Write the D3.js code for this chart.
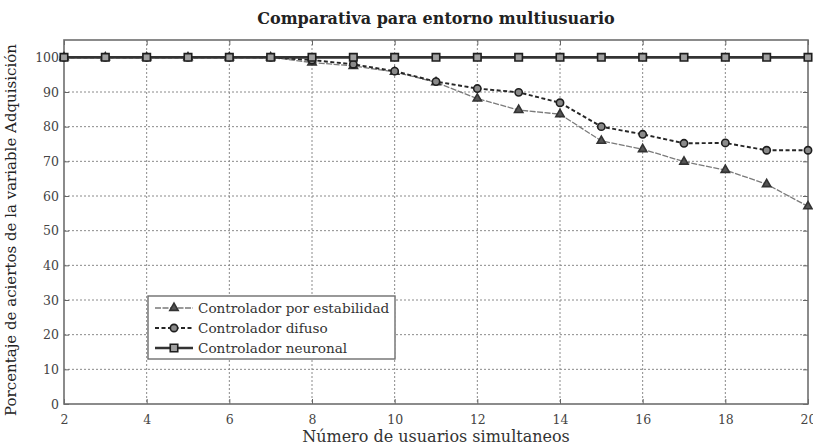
<!DOCTYPE html>
<html>
<head>
<meta charset="utf-8">
<script src="https://cdn.jsdelivr.net/npm/d3@7"></script>
<style>
  html, body { margin: 0; padding: 0; background: #fff; }
  svg { display: block; }
</style>
</head>
<body>
<svg id="chart" width="813" height="446"></svg>
<script>
// Number of simultaneous users
const usuarios = [2, 3, 4, 5, 6, 7, 8, 9, 10, 11, 12, 13, 14, 15, 16, 17, 18, 19, 20];

// Hit percentage for the "Adquisición" variable, per controller
const estabilidad = [100, 100, 100, 100, 100, 100, 98.5, 97.5, 95.8, 92.8, 88.1, 84.8, 83.6, 75.9, 73.5, 69.9, 67.5, 63.4, 57];
const difuso      = [100, 100, 100, 100, 100, 100, 99.2, 98, 96, 93, 91, 89.9, 86.9, 80, 77.8, 75.2, 75.3, 73.2, 73.2];
const neuronal    = [100, 100, 100, 100, 100, 100, 100, 100, 100, 100, 100, 100, 100, 100, 100, 100, 100, 100, 100];

const xTicks = [2, 4, 6, 8, 10, 12, 14, 16, 18, 20];
const yTicks = [0, 10, 20, 30, 40, 50, 60, 70, 80, 90, 100];

const titulo = "Comparativa para entorno multiusuario";
const etiquetaX = "Número de usuarios simultaneos";
const etiquetaY = "Porcentaje de aciertos de la variable Adquisición";
const nombres = ["Controlador por estabilidad", "Controlador difuso", "Controlador neuronal"];

const serif = "'DejaVu Serif', 'Liberation Serif', serif";

const svg = d3.select("#chart");
const plot = { left: 64, right: 808, top: 40, bottom: 404 };

const x = d3.scaleLinear().domain([2, 20]).range([plot.left, plot.right]);
const y = d3.scaleLinear().domain([0, 105]).range([plot.bottom, plot.top]);

// Dotted grid
const grid = svg.append("g").attr("stroke", "#8a8a8a").attr("stroke-width", 1)
  .attr("stroke-dasharray", "2,2");
grid.selectAll("line.gx").data(xTicks.slice(1, -1)).join("line")
  .attr("x1", d => x(d)).attr("x2", d => x(d))
  .attr("y1", plot.top).attr("y2", plot.bottom);
grid.selectAll("line.gy").data(yTicks.slice(1)).join("line")
  .attr("x1", plot.left).attr("x2", plot.right)
  .attr("y1", d => y(d)).attr("y2", d => y(d));

// Axes (ticks drawn inward)
const xAxis = svg.append("g").attr("transform", `translate(0,${plot.bottom})`)
  .call(d3.axisBottom(x).tickValues(xTicks).tickSizeInner(-5).tickSizeOuter(0).tickPadding(11));
const yAxis = svg.append("g").attr("transform", `translate(${plot.left},0)`)
  .call(d3.axisLeft(y).tickValues(yTicks).tickSizeInner(-5).tickSizeOuter(0).tickPadding(5));
const xTop = svg.append("g").attr("transform", `translate(0,${plot.top})`)
  .call(d3.axisTop(x).tickValues(xTicks).tickSizeInner(-5).tickSizeOuter(0).tickFormat(""));
const yRight = svg.append("g").attr("transform", `translate(${plot.right},0)`)
  .call(d3.axisRight(y).tickValues(yTicks).tickSizeInner(-5).tickSizeOuter(0).tickFormat(""));

[xAxis, yAxis, xTop, yRight].forEach(g => {
  g.select(".domain").remove();
  g.selectAll(".tick line").attr("stroke", "#666");
  g.selectAll("text").attr("font-family", serif).attr("font-size", 12.5).attr("fill", "#444");
});

// Frame
svg.append("rect")
  .attr("x", plot.left).attr("y", plot.top)
  .attr("width", plot.right - plot.left).attr("height", plot.bottom - plot.top)
  .attr("fill", "none").attr("stroke", "#6e6e6e").attr("stroke-width", 1.6);

// Series styles
const series = [
  { name: nombres[0], values: estabilidad, stroke: "#7a7a7a", width: 1.3, dash: "6,1.5",
    symbol: d3.symbolTriangle, size: 30, fill: "#555", mstroke: "#333" },
  { name: nombres[1], values: difuso, stroke: "#262626", width: 1.9, dash: "4,2.5",
    symbol: d3.symbolCircle, size: 42, fill: "#8a8a8a", mstroke: "#1e1e1e" },
  { name: nombres[2], values: neuronal, stroke: "#333", width: 2.6, dash: null,
    symbol: d3.symbolSquare, size: 56, fill: "#a0a0a0", mstroke: "#1e1e1e" }
];

const line = d3.line().x(d => x(d[0])).y(d => y(d[1]));

series.forEach(s => {
  const pts = usuarios.map((u, i) => [u, s.values[i]]);
  svg.append("path").datum(pts)
    .attr("d", line).attr("fill", "none")
    .attr("stroke", s.stroke).attr("stroke-width", s.width)
    .attr("stroke-dasharray", s.dash);
  svg.append("g").selectAll("path").data(pts).join("path")
    .attr("transform", d => `translate(${x(d[0])},${y(d[1])})`)
    .attr("d", d3.symbol().type(s.symbol).size(s.size))
    .attr("fill", s.fill).attr("stroke", s.mstroke).attr("stroke-width", 1.6);
});

// Legend
const lg = svg.append("g").attr("transform", "translate(148,296)");
lg.append("rect").attr("width", 247).attr("height", 63)
  .attr("fill", "#fff").attr("stroke", "#6e6e6e").attr("stroke-width", 1.4);
series.forEach((s, i) => {
  const row = lg.append("g").attr("transform", `translate(0,${12 + i * 20})`);
  row.append("line").attr("x1", 7).attr("x2", 45).attr("y1", 0).attr("y2", 0)
    .attr("stroke", s.stroke).attr("stroke-width", s.width).attr("stroke-dasharray", s.dash);
  row.append("path").attr("transform", "translate(26,0)")
    .attr("d", d3.symbol().type(s.symbol).size(s.size))
    .attr("fill", s.fill).attr("stroke", s.mstroke).attr("stroke-width", 1.6);
  row.append("text").attr("x", 50).attr("y", 0).attr("dy", "0.35em")
    .attr("font-family", serif).attr("font-size", 13.6).attr("fill", "#333")
    .text(s.name);
});

// Title and axis labels
svg.append("text").attr("x", (plot.left + plot.right) / 2).attr("y", 24)
  .attr("text-anchor", "middle").attr("font-family", serif)
  .attr("font-size", 16).attr("font-weight", "bold").attr("fill", "#222")
  .text(titulo);
svg.append("text").attr("x", (plot.left + plot.right) / 2).attr("y", 442)
  .attr("text-anchor", "middle").attr("font-family", serif)
  .attr("font-size", 16).attr("fill", "#333")
  .text(etiquetaX);
svg.append("text")
  .attr("transform", `translate(16,${(plot.top + plot.bottom) / 2 + 8}) rotate(-90)`)
  .attr("text-anchor", "middle").attr("font-family", serif)
  .attr("font-size", 15).attr("fill", "#222")
  .text(etiquetaY);
</script>
</body>
</html>
